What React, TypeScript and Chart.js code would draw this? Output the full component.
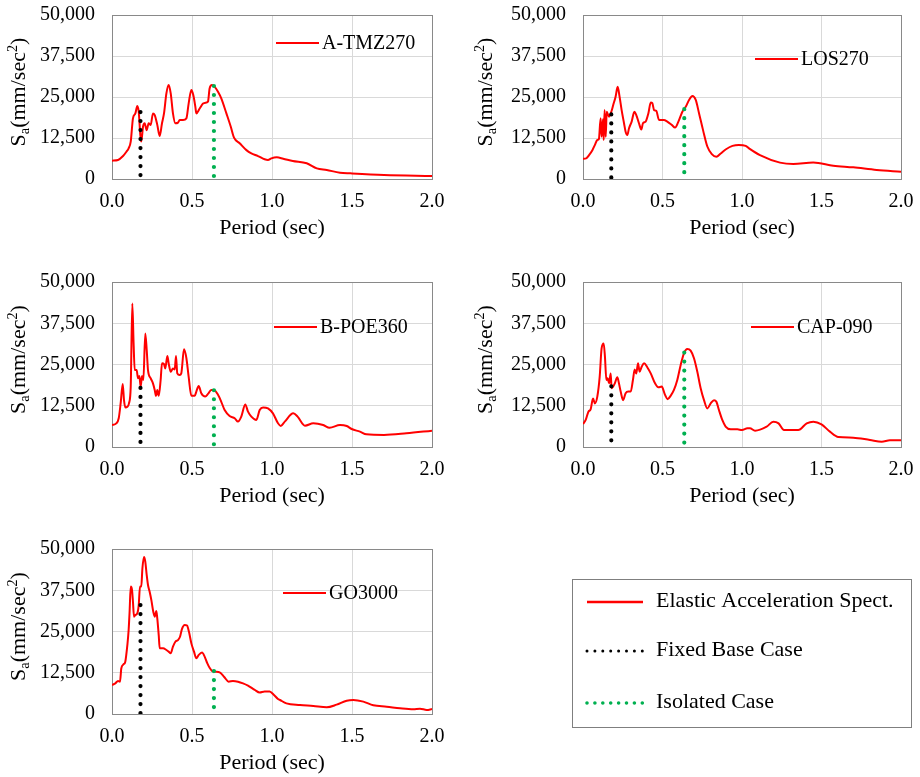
import React, { useEffect, useRef } from 'react';
import { Chart, registerables } from 'chart.js';

Chart.register(...registerables);

const FONT = "'Liberation Serif', 'Times New Roman', Times, serif";
Chart.defaults.font.family = FONT;

// ---------------- data ----------------
const recordNames = ['A-TMZ270', 'LOS270', 'B-POE360', 'CAP-090', 'GO3000'];

const periodsTMZ = [
  0, 0.0375, 0.069, 0.09, 0.104, 0.117, 0.131, 0.146, 0.158, 0.167,
  0.177, 0.183, 0.194, 0.204, 0.217, 0.229, 0.242, 0.256, 0.267, 0.283,
  0.298, 0.3125, 0.325, 0.34, 0.354, 0.367, 0.381, 0.396, 0.4125, 0.423,
  0.444, 0.465, 0.479, 0.496, 0.508, 0.521, 0.527, 0.548, 0.569, 0.59,
  0.6, 0.61, 0.625, 0.642, 0.6625, 0.683, 0.715, 0.742, 0.7625, 0.798,
  0.84, 0.871, 0.9125, 0.954, 0.975, 0.996, 1.03, 1.07, 1.13, 1.217,
  1.28, 1.342, 1.425, 1.49, 1.7, 2.0,
];
const saTMZ = [
  5600, 5800, 7000, 8300, 9350, 11400, 18500, 20000, 22250, 20500,
  13400, 11400, 16000, 17000, 14900, 17000, 16500, 20000, 19500, 16500,
  13100, 17000, 20000, 26100, 28650, 26100, 20000, 17000, 17200, 18000,
  18000, 18500, 23000, 27100, 25600, 22000, 20000, 21500, 23000, 23300,
  23600, 27600, 28650, 28100, 26600, 24600, 20000, 16000, 12600, 10900,
  8800, 7800, 7000, 6000, 5800, 6300, 6600, 6200, 5500, 4800,
  3250, 2750, 1930, 1730, 1220, 915,
];

const periodsLOS = [
  0, 0.02, 0.038, 0.059, 0.075, 0.09, 0.1, 0.111, 0.117, 0.126,
  0.13, 0.136, 0.143, 0.149, 0.164, 0.178, 0.19, 0.205, 0.218, 0.23,
  0.243, 0.258, 0.268, 0.279, 0.289, 0.306, 0.323, 0.335, 0.352, 0.367,
  0.377, 0.394, 0.411, 0.426, 0.436, 0.447, 0.461, 0.478, 0.509, 0.53,
  0.558, 0.579, 0.6, 0.625, 0.646, 0.667, 0.688, 0.709, 0.73, 0.755,
  0.782, 0.81, 0.839, 0.866, 0.897, 0.94, 0.98, 1.023, 1.044, 1.113,
  1.239, 1.323, 1.448, 1.574, 1.7, 1.847, 2.0,
];
const saLOS = [
  6200, 6300, 7300, 8800, 10400, 11900, 12200, 18500, 12900, 18200,
  11900, 21000, 12900, 20500, 19000, 20500, 22550, 25100, 28100, 25100,
  21000, 17000, 14400, 13400, 15400, 17500, 20500, 19500, 17000, 15100,
  17000, 17500, 20000, 23300, 23100, 21000, 20800, 18000, 18000, 17500,
  16500, 15700, 17500, 20500, 22000, 24100, 25300, 24100, 20000, 14900,
  9900, 7600, 6800, 7800, 9000, 10100, 10400, 10100, 9350, 7300,
  5000, 4570, 5000, 4060, 3550, 2740, 2230,
];

const periodsPOE = [
  0, 0.027, 0.042, 0.054, 0.067, 0.075, 0.083, 0.096, 0.106, 0.117,
  0.127, 0.135, 0.142, 0.154, 0.1625, 0.171, 0.179, 0.1875, 0.196, 0.208,
  0.217, 0.225, 0.242, 0.256, 0.267, 0.275, 0.283, 0.292, 0.304, 0.3125,
  0.325, 0.333, 0.346, 0.354, 0.367, 0.381, 0.392, 0.4, 0.408, 0.423,
  0.433, 0.45, 0.465, 0.479, 0.496, 0.517, 0.527, 0.542, 0.558, 0.583,
  0.6, 0.62, 0.6375, 0.6625, 0.683, 0.704, 0.735, 0.767, 0.7875, 0.808,
  0.833, 0.85, 0.871, 0.902, 0.923, 0.944, 0.975, 1.006, 1.0375, 1.055,
  1.08, 1.133, 1.16, 1.206, 1.258, 1.32, 1.36, 1.425, 1.467, 1.498,
  1.55, 1.59, 1.7, 1.84, 2.0,
];
const saPOE = [
  6660, 7170, 8700, 13200, 19100, 14200, 12000, 12200, 13200, 18300,
  43500, 31400, 23300, 23300, 20800, 21500, 18300, 21500, 20300, 34400,
  29400, 23300, 20800, 19300, 17300, 15500, 17300, 15500, 20300, 25400,
  25100, 23800, 27600, 25400, 22800, 23800, 23500, 27600, 22300, 21800,
  22300, 29600, 26900, 21300, 15500, 15500, 16800, 18500, 16300, 15300,
  16100, 17300, 17300, 15800, 13700, 11200, 9400, 8700, 7700, 9200,
  12900, 10700, 9200, 8200, 11200, 12000, 11700, 10200, 7200, 6400,
  7680, 10200, 9200, 6460, 7170, 6660, 5850, 6660, 6360, 5450,
  4650, 3830, 3640, 4140, 4950,
];

const periodsCAP = [
  0, 0.017, 0.034, 0.048, 0.063, 0.075, 0.09, 0.105, 0.117, 0.13,
  0.138, 0.147, 0.155, 0.164, 0.174, 0.18, 0.189, 0.2, 0.216, 0.226,
  0.237, 0.252, 0.268, 0.285, 0.3, 0.314, 0.325, 0.335, 0.346, 0.356,
  0.369, 0.384, 0.405, 0.426, 0.453, 0.474, 0.495, 0.516, 0.532, 0.551,
  0.572, 0.593, 0.614, 0.635, 0.656, 0.677, 0.698, 0.719, 0.74, 0.761,
  0.782, 0.803, 0.824, 0.839, 0.855, 0.876, 0.897, 0.929, 0.971, 1.0,
  1.034, 1.05, 1.082, 1.155, 1.197, 1.23, 1.264, 1.354, 1.407, 1.449,
  1.5, 1.553, 1.606, 1.7, 1.805, 1.879, 1.93, 2.0,
];
const saCAP = [
  6970, 8200, 10700, 11400, 14700, 13200, 15250, 21300, 29900, 31400,
  27400, 20300, 20800, 19300, 22300, 17800, 18300, 19300, 21100, 19300,
  16800, 14200, 16300, 16800, 16800, 20300, 23500, 22300, 25400, 22800,
  24300, 25400, 24100, 22300, 19300, 18100, 18300, 15800, 14500, 15500,
  17300, 20300, 24800, 28400, 29700, 29200, 26900, 22800, 17800, 14200,
  11700, 13200, 14200, 13700, 11200, 8200, 6200, 5350, 5350, 5150,
  5650, 5660, 4950, 6160, 7680, 7170, 5150, 5150, 7170, 7680,
  6870, 4650, 3030, 2830, 2120, 1620, 2020, 2020,
];

const periodsGO = [
  0, 0.021, 0.0375, 0.05, 0.058, 0.071, 0.083, 0.096, 0.104, 0.11,
  0.117, 0.125, 0.131, 0.1375, 0.146, 0.158, 0.167, 0.175, 0.183, 0.19,
  0.2, 0.208, 0.217, 0.225, 0.235, 0.246, 0.258, 0.267, 0.277, 0.283,
  0.292, 0.298, 0.319, 0.34, 0.354, 0.367, 0.381, 0.396, 0.4125, 0.425,
  0.4375, 0.454, 0.469, 0.481, 0.496, 0.5125, 0.527, 0.542, 0.5625, 0.579,
  0.596, 0.61, 0.627, 0.646, 0.673, 0.7, 0.729, 0.756, 0.7875, 0.819,
  0.85, 0.892, 0.923, 0.954, 0.985, 1.0125, 1.0375, 1.05, 1.09, 1.175,
  1.258, 1.342, 1.404, 1.467, 1.508, 1.571, 1.633, 1.717, 1.8, 1.883,
  1.925, 1.967, 2.0,
];
const saGO = [
  8790, 9300, 10000, 9800, 13800, 15000, 15860, 20900, 25450, 31000,
  38600, 37600, 34000, 29500, 30000, 30500, 33000, 38600, 38600, 44100,
  47600, 46200, 42100, 39100, 37100, 34500, 31000, 29500, 31200, 29000,
  23900, 19900, 19900, 19400, 18900, 18400, 20400, 21900, 22400, 23400,
  25800, 27000, 26800, 24900, 21400, 18900, 16900, 17900, 18600, 17400,
  15350, 14000, 13000, 12800, 12600, 11300, 9800, 10000, 9800, 9300,
  8600, 7300, 6500, 6800, 6800, 5750, 4550, 4240, 3230, 2730,
  2420, 2020, 2830, 4040, 4240, 3740, 2630, 2220, 1720, 1410,
  1620, 1210, 1510,
];

const fixedBasePeriod = 0.178;
const isolatedPeriod = 0.637;
const fixedBaseSa = [20400, 19700, 17900, 18400, 33000];
const isolatedSa = [28350, 21300, 17200, 28600, 13000];

const xTickValues = [0, 0.5, 1.0, 1.5, 2.0];
const yTickValues = [0, 12500, 25000, 37500, 50000];

const legendLabels = ['Elastic Acceleration Spect.', 'Fixed Base Case', 'Isolated Case'];
const xAxisTitle = 'Period (sec)';

const seriesPeriods = [periodsTMZ, periodsLOS, periodsPOE, periodsCAP, periodsGO];
const seriesSa = [saTMZ, saLOS, saPOE, saCAP, saGO];

// ---------------- layout & style ----------------
const RED = '#ff0000';
const GREEN = '#00b050';
const BLACK = '#000000';
const GRID = '#d9d9d9';
const FRAME = '#898989';

const Y_AXIS_W = 112;
const PAD_TOP = 15;
const PAD_RIGHT = 14;
const X_AXIS_H = 62;

const panels = [
  { x0: 112, x1: 432, y0: 15, y1: 179, legDx: 164, legDy: 28, yTitleDx: -87 },
  { x0: 583, x1: 901, y0: 15, y1: 179, legDx: 172, legDy: 44, yTitleDx: -91 },
  { x0: 112, x1: 432, y0: 282, y1: 447, legDx: 162, legDy: 45, yTitleDx: -87 },
  { x0: 583, x1: 901, y0: 282, y1: 447, legDx: 168, legDy: 45, yTitleDx: -91 },
  { x0: 112, x1: 432, y0: 549, y1: 714, legDx: 171, legDy: 44, yTitleDx: -87 },
];

const legendBox = { x: 572, y: 579, w: 340, h: 149, rows: [23, 72, 124], lineX0: 15, lineX1: 71, textX: 84 };

function zeroPadding(scale: any) {
  scale.paddingTop = 0;
  scale.paddingBottom = 0;
  scale.paddingLeft = 0;
  scale.paddingRight = 0;
}

function makeYTitlePlugin(dx: number) {
  return {
    id: 'yTitleRich',
    afterDraw(chart: any) {
      const { ctx, chartArea } = chart;
      const size = 22;
      const small = size * 0.65;
      const parts = [
        { t: 'S', s: size, dy: 0 },
        { t: 'a', s: small, dy: size * 0.2 },
        { t: '(mm/sec', s: size, dy: 0 },
        { t: '2', s: small, dy: -size * 0.36 },
        { t: ')', s: size, dy: 0 },
      ];
      ctx.save();
      const widths = parts.map((p) => {
        ctx.font = `${p.s}px ${FONT}`;
        return ctx.measureText(p.t).width;
      });
      const total = widths.reduce((a, b) => a + b, 0);
      const cx = chartArea.left + dx;
      const cy = (chartArea.top + chartArea.bottom) / 2 - 5;
      ctx.translate(cx, cy);
      ctx.rotate(-Math.PI / 2);
      ctx.fillStyle = BLACK;
      ctx.textBaseline = 'alphabetic';
      ctx.textAlign = 'left';
      let x = -total / 2;
      parts.forEach((p, i) => {
        ctx.font = `${p.s}px ${FONT}`;
        ctx.fillText(p.t, x, p.dy);
        x += widths[i];
      });
      ctx.restore();
    },
  };
}

function makePanelLegendPlugin(dx: number, dy: number) {
  return {
    id: 'panelLegend',
    afterDatasetsDraw(chart: any) {
      const { ctx, chartArea } = chart;
      const ds = chart.data.datasets[2];
      const x = chartArea.left + dx;
      const y = chartArea.top + dy;
      ctx.save();
      ctx.strokeStyle = ds.borderColor;
      ctx.lineWidth = ds.borderWidth;
      ctx.beginPath();
      ctx.moveTo(x, y);
      ctx.lineTo(x + 43, y);
      ctx.stroke();
      ctx.fillStyle = BLACK;
      ctx.font = `20px ${FONT}`;
      ctx.textBaseline = 'middle';
      ctx.textAlign = 'left';
      ctx.fillText(ds.label, x + 46, y + 1);
      ctx.restore();
    },
  };
}

function Panel({ idx }: { idx: number }) {
  const ref = useRef<HTMLCanvasElement | null>(null);
  const p = panels[idx];
  const width = Y_AXIS_W + (p.x1 - p.x0) + PAD_RIGHT;
  const height = PAD_TOP + (p.y1 - p.y0) + X_AXIS_H;
  const left = p.x0 - Y_AXIS_W;
  const top = p.y0 - PAD_TOP;

  useEffect(() => {
    if (!ref.current) return;
    const periods = seriesPeriods[idx];
    const sa = seriesSa[idx];
    const chart = new Chart(ref.current, {
      type: 'line',
      data: {
        datasets: [
          {
            label: legendLabels[1],
            data: [
              { x: fixedBasePeriod, y: fixedBaseSa[idx] },
              { x: fixedBasePeriod, y: 0 },
            ],
            borderColor: BLACK,
            borderWidth: 4.2,
            borderDash: [0, 9],
            borderCapStyle: 'round',
            pointRadius: 0,
            tension: 0,
            order: 0,
          },
          {
            label: legendLabels[2],
            data: [
              { x: isolatedPeriod, y: isolatedSa[idx] },
              { x: isolatedPeriod, y: 0 },
            ],
            borderColor: GREEN,
            borderWidth: 4.2,
            borderDash: [0, 9],
            borderCapStyle: 'round',
            pointRadius: 0,
            tension: 0,
            order: 0,
          },
          {
            label: recordNames[idx],
            data: periods.map((x, i) => ({ x, y: sa[i] })),
            borderColor: RED,
            borderWidth: 2,
            pointRadius: 0,
            cubicInterpolationMode: 'monotone',
            order: 1,
          },
        ],
      } as any,
      options: {
        responsive: false,
        animation: false,
        events: [],
        layout: { padding: { top: PAD_TOP, right: PAD_RIGHT, left: 0, bottom: 0 } },
        plugins: {
          legend: { display: false },
          tooltip: { enabled: false },
        },
        scales: {
          x: {
            type: 'linear',
            min: 0,
            max: 2,
            afterBuildTicks: (scale: any) => {
              scale.ticks = xTickValues.map((v) => ({ value: v }));
            },
            afterFit: (scale: any) => {
              scale.height = X_AXIS_H;
              zeroPadding(scale);
            },
            grid: {
              color: (c: any) =>
                c.tick && (c.tick.value === 0 || c.tick.value === 2) ? FRAME : GRID,
              lineWidth: 1,
              drawTicks: false,
            },
            border: { display: true, color: FRAME, width: 1 },
            ticks: {
              color: BLACK,
              font: { family: FONT, size: 20 },
              padding: 11,
              maxRotation: 0,
              autoSkip: false,
              callback: (v: any) => Number(v).toFixed(1),
            },
            title: {
              display: true,
              text: xAxisTitle,
              color: BLACK,
              font: { family: FONT, size: 22 },
              padding: 0,
            },
          },
          y: {
            type: 'linear',
            min: 0,
            max: 50000,
            afterBuildTicks: (scale: any) => {
              scale.ticks = yTickValues.map((v) => ({ value: v }));
            },
            afterFit: (scale: any) => {
              scale.width = Y_AXIS_W;
              zeroPadding(scale);
            },
            grid: {
              color: (c: any) =>
                c.tick && (c.tick.value === 0 || c.tick.value === 50000) ? FRAME : GRID,
              lineWidth: 1,
              drawTicks: false,
            },
            border: { display: true, color: FRAME, width: 1 },
            ticks: {
              color: BLACK,
              font: { family: FONT, size: 20 },
              padding: 17,
              autoSkip: false,
              callback: (v: any) => Number(v).toLocaleString('en-US'),
            },
            title: { display: false },
          },
        },
      } as any,
      plugins: [makeYTitlePlugin(p.yTitleDx), makePanelLegendPlugin(p.legDx, p.legDy)],
    });
    return () => chart.destroy();
  }, [idx]);

  return (
    <canvas
      ref={ref}
      width={width}
      height={height}
      style={{ position: 'absolute', left, top, width, height }}
    />
  );
}

function LegendBox() {
  const ref = useRef<HTMLCanvasElement | null>(null);
  const b = legendBox;
  useEffect(() => {
    if (!ref.current) return;
    const boxPlugin = {
      id: 'boxLegend',
      afterDraw(chart: any) {
        const { ctx } = chart;
        ctx.save();
        ctx.strokeStyle = '#7f7f7f';
        ctx.lineWidth = 1;
        ctx.strokeRect(0.5, 0.5, b.w - 1, b.h - 1);
        chart.data.datasets.forEach((ds: any, i: number) => {
          const y = b.rows[i];
          ctx.save();
          ctx.strokeStyle = ds.borderColor;
          ctx.lineWidth = ds.borderWidth;
          ctx.lineCap = ds.borderCapStyle || 'butt';
          ctx.setLineDash(ds.borderDash || []);
          ctx.beginPath();
          ctx.moveTo(b.lineX0, y);
          ctx.lineTo(b.lineX1, y);
          ctx.stroke();
          ctx.restore();
          ctx.fillStyle = BLACK;
          ctx.font = `22px ${FONT}`;
          ctx.textBaseline = 'middle';
          ctx.textAlign = 'left';
          ctx.fillText(ds.label, b.textX, y - 1);
        });
        ctx.restore();
      },
    };
    const chart = new Chart(ref.current, {
      type: 'line',
      data: {
        datasets: [
          { label: legendLabels[0], data: [], borderColor: RED, borderWidth: 2.5 },
          {
            label: legendLabels[1],
            data: [],
            borderColor: BLACK,
            borderWidth: 3,
            borderDash: [0, 7.9],
            borderCapStyle: 'round',
          },
          {
            label: legendLabels[2],
            data: [],
            borderColor: GREEN,
            borderWidth: 3.6,
            borderDash: [0, 7.9],
            borderCapStyle: 'round',
          },
        ],
      } as any,
      options: {
        responsive: false,
        animation: false,
        events: [],
        plugins: { legend: { display: false }, tooltip: { enabled: false } },
        scales: { x: { display: false }, y: { display: false } },
      } as any,
      plugins: [boxPlugin],
    });
    return () => chart.destroy();
  }, []);
  return (
    <canvas
      ref={ref}
      width={b.w}
      height={b.h}
      style={{ position: 'absolute', left: b.x, top: b.y, width: b.w, height: b.h }}
    />
  );
}

export default function App() {
  return (
    <div
      style={{
        position: 'absolute',
        left: 0,
        top: 0,
        width: 920,
        height: 777,
        background: '#ffffff',
        overflow: 'hidden',
      }}
    >
      {panels.map((_, i) => (
        <Panel key={i} idx={i} />
      ))}
      <LegendBox />
    </div>
  );
}
